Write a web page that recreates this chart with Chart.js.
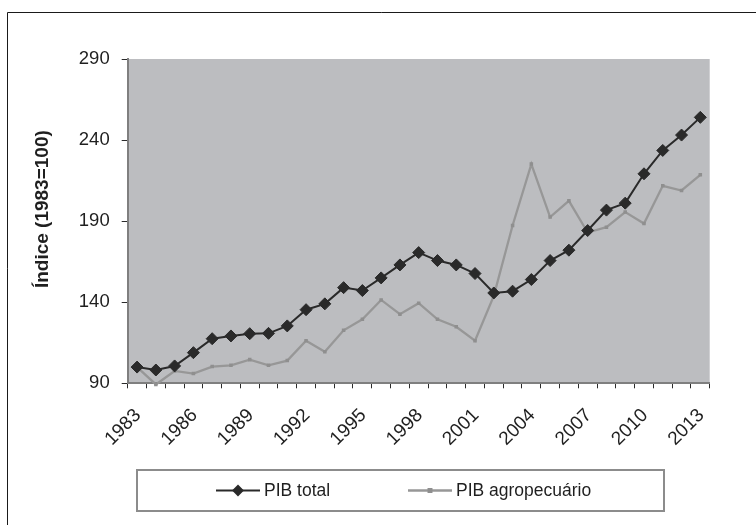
<!DOCTYPE html>
<html>
<head>
<meta charset="utf-8">
<script src="https://cdn.jsdelivr.net/npm/chart.js@4.4.1/dist/chart.umd.min.js"></script>
<style>
  html, body { margin: 0; padding: 0; background: #ffffff; }
  #wrap { position: relative; width: 756px; height: 525px; }
  canvas { display: block; }
</style>
</head>
<body>
<div id="wrap"><canvas id="chart" width="756" height="525"></canvas></div>
<script>
// Índice do PIB total e do PIB agropecuário, 1983–2013 (1983 = 100)
const years = ['1983','1984','1985','1986','1987','1988','1989','1990','1991','1992',
  '1993','1994','1995','1996','1997','1998','1999','2000','2001','2002',
  '2003','2004','2005','2006','2007','2008','2009','2010','2011','2012','2013'];

const pibTotal = [100, 98.2, 100.7, 108.9, 117.5, 119.2, 120.6, 120.8, 125.4, 135.4,
  139, 149, 147.2, 155, 163, 170.6, 165.7, 163, 157.7, 145.7,
  146.8, 154, 165.7, 172.1, 184.2, 196.8, 201.1, 219.2, 233.6, 243.1, 254];

const pibAgro = [100, 89.3, 97.6, 96, 100.3, 101.1, 104.6, 101.1, 104, 116.3,
  109.5, 122.7, 129.5, 141.4, 132.6, 139.4, 129.5, 124.9, 116.3, 143.9,
  187.3, 225.2, 192.5, 202.5, 183, 186.3, 195.6, 188.5, 211.8, 208.9, 218.6];

const yTicks = [90, 140, 190, 240, 290];
const labelStep = 3;
const yTitle = 'Índice (1983=100)';

const FONT = "'Liberation Sans', Arial, sans-serif";

// Plot background, outer frame, axis title, slanted year labels and boxed legend
const decor = {
  id: 'decor',
  beforeDraw(chart) {
    const { ctx, chartArea: a } = chart;
    ctx.save();
    ctx.fillStyle = '#ffffff';
    ctx.fillRect(0, 0, chart.width, chart.height);
    ctx.strokeStyle = '#1a1a1a';
    ctx.lineWidth = 1;
    ctx.beginPath();
    ctx.moveTo(7.5, chart.height);
    ctx.lineTo(7.5, 12.5);
    ctx.lineTo(chart.width, 12.5);
    ctx.stroke();
    ctx.fillStyle = '#bcbdc0';
    ctx.fillRect(a.left, a.top, a.right - a.left, a.bottom - a.top);

    // vertical axis title
    ctx.translate(43, (a.top + a.bottom) / 2 - 12);
    ctx.rotate(-Math.PI / 2);
    ctx.fillStyle = '#1f1f1f';
    ctx.font = 'bold 19px ' + FONT;
    ctx.textAlign = 'center';
    ctx.textBaseline = 'middle';
    ctx.fillText(yTitle, 0, 0);
    ctx.restore();
  },
  afterDraw(chart) {
    const { ctx, chartArea: a } = chart;
    const xs = chart.scales.x;
    ctx.save();

    // year labels every third category, slanted 45°
    ctx.fillStyle = '#1f1f1f';
    ctx.font = '19px ' + FONT;
    ctx.textAlign = 'right';
    ctx.textBaseline = 'middle';
    years.forEach((yr, i) => {
      if (i % labelStep !== 0) return;
      const px = xs.getPixelForTick(i);
      ctx.save();
      ctx.translate(px + 1, a.bottom + 29);
      ctx.rotate(-Math.PI / 4);
      ctx.fillText(yr, 0, 0);
      ctx.restore();
    });

    // legend box
    const box = { x: 137, y: 470, w: 527, h: 41 };
    ctx.strokeStyle = '#8c8c8c';
    ctx.lineWidth = 2;
    ctx.strokeRect(box.x, box.y, box.w, box.h);
    const cy = box.y + box.h / 2;
    const items = [
      { ds: chart.data.datasets[0], x: 216 },
      { ds: chart.data.datasets[1], x: 408 }
    ];
    items.forEach(it => {
      const ds = it.ds;
      ctx.strokeStyle = ds.borderColor;
      ctx.lineWidth = ds.borderWidth;
      ctx.beginPath();
      ctx.moveTo(it.x, cy);
      ctx.lineTo(it.x + 44, cy);
      ctx.stroke();
      ctx.fillStyle = ds.pointBackgroundColor;
      ctx.strokeStyle = ds.pointBorderColor;
      Chart.helpers.drawPoint(ctx, {
        pointStyle: ds.pointStyle,
        radius: ds.pointRadius * 0.75,
        borderWidth: 1
      }, it.x + 22, cy);
      ctx.fillStyle = '#1f1f1f';
      ctx.font = '17.5px ' + FONT;
      ctx.textBaseline = 'middle';
      ctx.textAlign = 'left';
      ctx.fillText(ds.label, it.x + 48, cy + 1);
    });
    ctx.restore();
  }
};

new Chart(document.getElementById('chart'), {
  type: 'line',
  data: {
    labels: years,
    datasets: [
      {
        label: 'PIB total',
        data: pibTotal,
        borderColor: '#2a2a2a',
        borderWidth: 2,
        pointStyle: 'rectRot',
        pointRadius: 6,
        pointBackgroundColor: '#2a2a2a',
        pointBorderColor: '#2a2a2a',
        pointBorderWidth: 1,
        tension: 0,
        order: 1
      },
      {
        label: 'PIB agropecuário',
        data: pibAgro,
        borderColor: '#979797',
        borderWidth: 2.3,
        pointStyle: 'rect',
        pointRadius: 2.5,
        pointBackgroundColor: '#8f8f8f',
        pointBorderColor: '#8f8f8f',
        pointBorderWidth: 0,
        tension: 0,
        order: 2,
        clip: 4
      }
    ]
  },
  options: {
    responsive: false,
    animation: false,
    devicePixelRatio: 1,
    layout: { padding: { left: 0, top: 59, right: 46.3, bottom: 55 } },
    plugins: {
      legend: { display: false },
      tooltip: { enabled: false }
    },
    scales: {
      x: {
        type: 'category',
        offset: true,
        border: { display: true, color: '#7f7f7f', width: 2 },
        grid: {
          offset: true,
          drawOnChartArea: false,
          drawTicks: true,
          tickLength: 5,
          color: '#2a2a2a',
          lineWidth: 1
        },
        ticks: { display: false, autoSkip: false },
        afterFit(scale) { scale.height = 470 - 383.3; }
      },
      y: {
        min: yTicks[0],
        max: yTicks[yTicks.length - 1],
        border: { display: true, color: '#7f7f7f', width: 2 },
        grid: {
          drawOnChartArea: false,
          drawTicks: true,
          tickLength: 6,
          color: '#2a2a2a'
        },
        afterBuildTicks(scale) {
          scale.ticks = yTicks.map(v => ({ value: v }));
        },
        ticks: {
          padding: 12,
          color: '#1f1f1f',
          font: { family: FONT, size: 18.5 }
        },
        afterFit(scale) { scale.width = 127.7; }
      }
    }
  },
  plugins: [decor]
});
</script>
</body>
</html>
